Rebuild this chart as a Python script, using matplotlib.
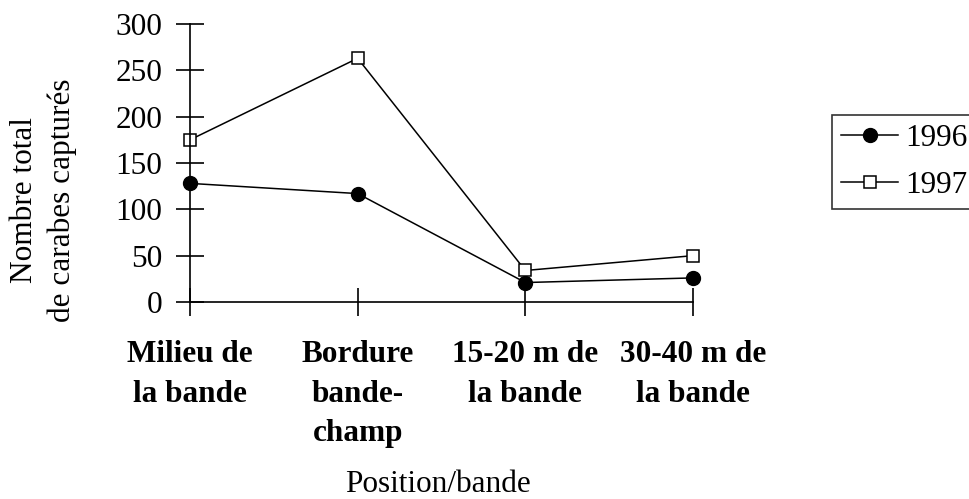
import matplotlib
matplotlib.use('Agg')
import matplotlib.pyplot as plt

plt.rcParams['font.family'] = ['Liberation Serif', 'DejaVu Serif']

positions = ['Milieu de\nla bande', 'Bordure\nbande-\nchamp', '15-20 m de\nla bande', '30-40 m de\nla bande']
y1996 = [128, 117, 21, 26]
y1997 = [175, 263, 34, 50]
yticks = [0, 50, 100, 150, 200, 250, 300]

fs = 22.5
fig = plt.figure(figsize=(9.69, 4.99), dpi=100)
ax = fig.add_axes([190 / 969, 1 - 302 / 499, (693 - 190) / 969, (302 - 24) / 499])

x = range(len(positions))
ax.plot(x, y1996, color='black', lw=1.1, marker='o', ms=10, mfc='black', mec='black',
        label='1996', clip_on=False)
ax.plot(x, y1997, color='black', lw=1.1, marker='s', ms=9, mfc='white', mec='black',
        mew=1.1, label='1997', clip_on=False)

ax.set_xlim(0, 3)
ax.set_ylim(0, 300)
ax.set_yticks(yticks)
ax.set_xticks(list(x))
ax.set_xticklabels(positions, fontweight='bold', fontsize=fs, linespacing=1.5, va='top')
ax.tick_params(axis='y', labelsize=fs, direction='inout', length=20, width=1.2, pad=10)
ax.tick_params(axis='x', direction='inout', length=20, width=1.2, pad=17)
for s in ['top', 'right']:
    ax.spines[s].set_visible(False)
for s in ['left', 'bottom']:
    ax.spines[s].set_linewidth(1.2)

# titre de l'axe y sur deux lignes
fig.text(25 / 969, 1 - 200 / 499, 'Nombre total', rotation=90, fontsize=fs,
         ha='center', va='center')
fig.text(62 / 969, 1 - 200 / 499, 'de carabes capturés', rotation=90, fontsize=fs,
         ha='center', va='center')
fig.text(438 / 969, 1 - 492 / 499, 'Position/bande', fontsize=fs, ha='center', va='baseline')

leg = fig.legend(loc='upper left', bbox_to_anchor=(832 / 969, 1 - 115 / 499), fontsize=fs,
                 frameon=True, fancybox=False, edgecolor='black', borderpad=0.3,
                 handlelength=1.8, handletextpad=0.25, labelspacing=0.55, borderaxespad=0)
leg.get_frame().set_linewidth(1.2)

fig.savefig('out.png', dpi=100)
